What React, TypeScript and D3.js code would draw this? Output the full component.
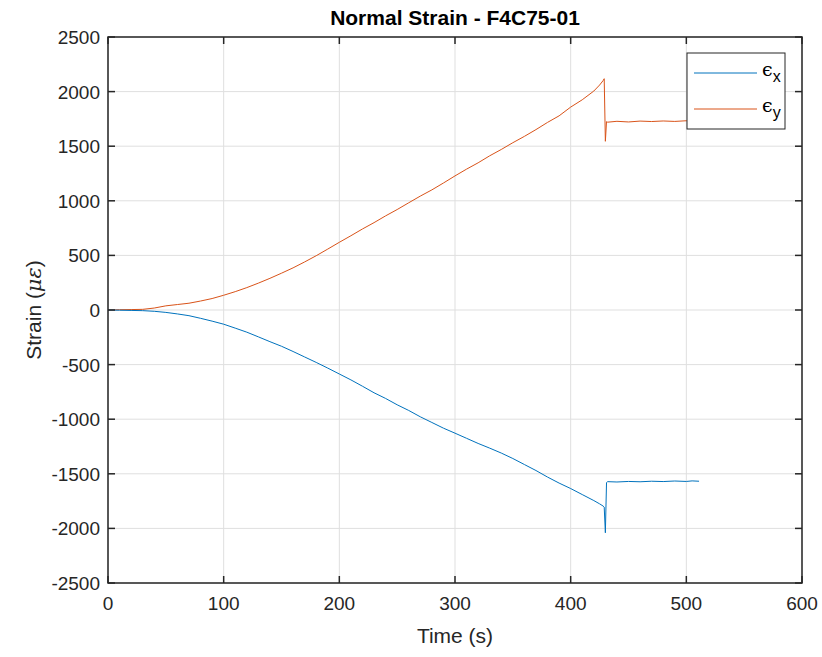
import React from "react";
import * as d3 from "d3";

const timeS = [0,10,20,30,40,50,60,70,80,90,100,110,120,130,140,150,160,170,180,190,200,210,220,230,240,250,260,270,280,290,300,310,320,330,340,350,360,370,380,390,400,410,420,425,428,429,430,431,432,440,450,460,470,480,490,500,505,511];
const epsX = [0,-2,-4,-6,-12,-22,-36,-52,-76,-102,-130,-166,-203,-246,-290,-332,-380,-430,-480,-532,-586,-640,-698,-758,-810,-868,-920,-978,-1030,-1082,-1128,-1175,-1222,-1265,-1310,-1360,-1415,-1470,-1530,-1585,-1635,-1690,-1745,-1775,-1795,-1805,-2040,-1580,-1572,-1575,-1570,-1573,-1568,-1571,-1566,-1570,-1565,-1568];
const epsY = [0,3,4,6,18,38,50,62,82,105,135,168,205,246,290,337,386,440,497,558,620,680,742,800,862,920,982,1043,1100,1163,1228,1290,1348,1412,1470,1532,1590,1652,1718,1778,1858,1925,2005,2060,2100,2118,1545,1725,1720,1728,1722,1730,1726,1731,1727,1733,1729,1732];
const xTicks = [0,100,200,300,400,500,600];
const yTicks = [-2500,-2000,-1500,-1000,-500,0,500,1000,1500,2000,2500];

export default function App() {
  const W = 822, H = 657;
  const L = 108, R = 802, T = 37, B = 583;
  const x = d3.scaleLinear().domain([0, 600]).range([L, R]);
  const y = d3.scaleLinear().domain([-2500, 2500]).range([B, T]);
  const line = (vals: number[]) =>
    d3.line<number>().x((_, i) => x(timeS[i])).y((v) => y(v))(vals) || "";
  const axisColor = "#262626";
  const font = "'Liberation Sans', Arial, Helvetica, sans-serif";
  const tl = 7;
  return (
    <svg width={W} height={H} style={{ position: "absolute", left: 0, top: 0, background: "#fff" }} fontFamily={font}>
      <rect x={0} y={0} width={W} height={H} fill="#fff" />
      {xTicks.map((t) => (
        <line key={"gx" + t} x1={x(t)} x2={x(t)} y1={T} y2={B} stroke="#dfdfdf" strokeWidth={1} />
      ))}
      {yTicks.map((t) => (
        <line key={"gy" + t} x1={L} x2={R} y1={y(t)} y2={y(t)} stroke="#dfdfdf" strokeWidth={1} />
      ))}
      <path d={line(epsY)} fill="none" stroke="#D95319" strokeWidth={1} />
      <path d={line(epsX)} fill="none" stroke="#0072BD" strokeWidth={1} />
      <rect x={L} y={T} width={R - L} height={B - T} fill="none" stroke={axisColor} strokeWidth={1.5} />
      {xTicks.map((t) => (
        <g key={"tx" + t}>
          <line x1={x(t)} x2={x(t)} y1={B} y2={B - tl} stroke={axisColor} strokeWidth={1.5} />
          <line x1={x(t)} x2={x(t)} y1={T} y2={T + tl} stroke={axisColor} strokeWidth={1.5} />
          <text x={x(t)} y={B + 27} textAnchor="middle" fontSize={19} fill={axisColor}>{t}</text>
        </g>
      ))}
      {yTicks.map((t) => (
        <g key={"ty" + t}>
          <line x1={L} x2={L + tl} y1={y(t)} y2={y(t)} stroke={axisColor} strokeWidth={1.5} />
          <line x1={R} x2={R - tl} y1={y(t)} y2={y(t)} stroke={axisColor} strokeWidth={1.5} />
          <text x={L - 8} y={y(t) + 7} textAnchor="end" fontSize={19} fill={axisColor}>{t}</text>
        </g>
      ))}
      <text x={(L + R) / 2} y={25} textAnchor="middle" fontSize={21} fontWeight="bold" fill="#000">Normal Strain - F4C75-01</text>
      <text x={(L + R) / 2} y={643} textAnchor="middle" fontSize={21} fill={axisColor}>Time (s)</text>
      <text transform={`translate(41,${(T + B) / 2}) rotate(-90)`} textAnchor="middle" fontSize={21} fill={axisColor}>
        Strain (<tspan fontFamily="'DejaVu Serif', serif" fontStyle="italic">με</tspan>)
      </text>
      <g>
        <rect x={687} y={53} width={98} height={76} fill="#fff" stroke="#262626" strokeWidth={1} />
        <line x1={694} x2={757} y1={73} y2={73} stroke="#0072BD" strokeWidth={1} />
        <line x1={694} x2={757} y1={109} y2={109} stroke="#D95319" strokeWidth={1} />
        <text x={762} y={76} fontSize={19} fill="#000" fontFamily="'DejaVu Serif', serif">ϵ<tspan dy={6} fontSize={16} fontFamily={font}>x</tspan></text>
        <text x={762} y={112} fontSize={19} fill="#000" fontFamily="'DejaVu Serif', serif">ϵ<tspan dy={6} fontSize={16} fontFamily={font}>y</tspan></text>
      </g>
    </svg>
  );
}
